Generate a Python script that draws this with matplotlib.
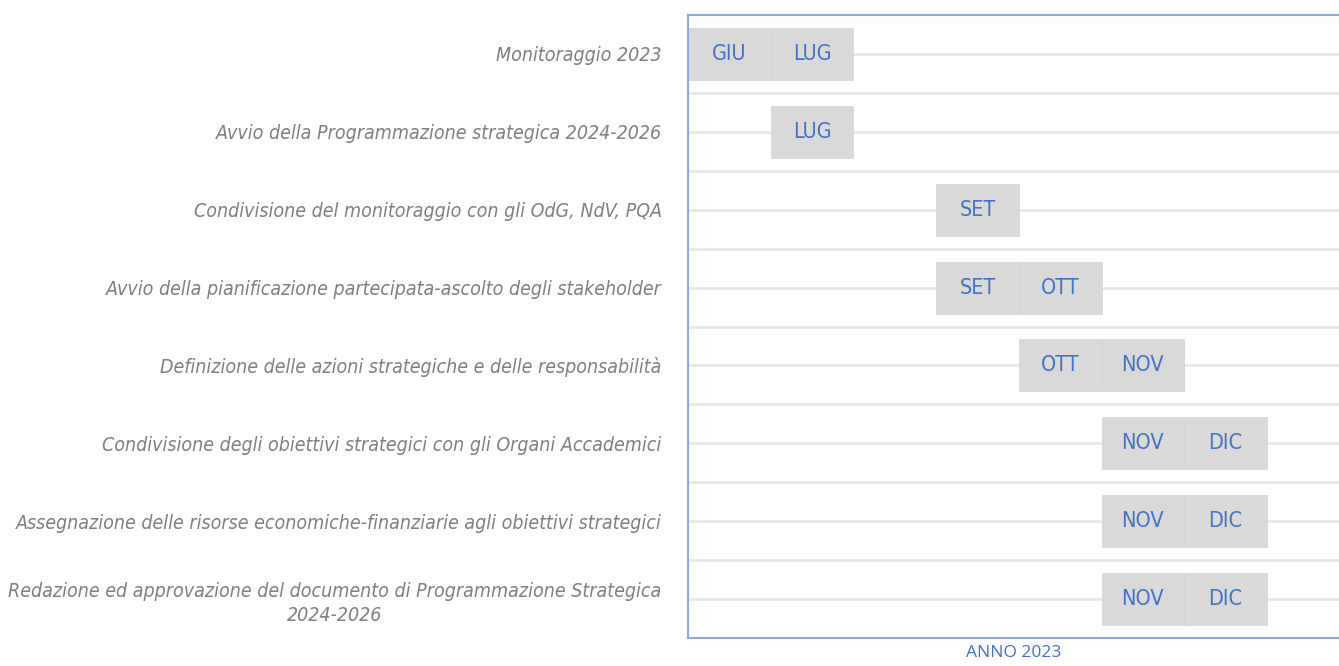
import numpy as np
import matplotlib
matplotlib.use('Agg')
import matplotlib.pyplot as plt

# data
tasks = ['Monitoraggio 2023',
         'Avvio della Programmazione strategica 2024-2026',
         'Condivisione del monitoraggio con gli OdG, NdV, PQA',
         'Avvio della pianificazione partecipata-ascolto degli stakeholder',
         'Definizione delle azioni strategiche e delle responsabilità',
         'Condivisione degli obiettivi strategici con gli Organi Accademici',
         'Assegnazione delle risorse economiche-finanziarie agli obiettivi strategici',
         'Redazione ed approvazione del documento di Programmazione Strategica\n2024-2026']
months = ['GIU', 'LUG', 'AGO', 'SET', 'OTT', 'NOV', 'DIC']
task_months = [['GIU', 'LUG'],
               ['LUG'],
               ['SET'],
               ['SET', 'OTT'],
               ['OTT', 'NOV'],
               ['NOV', 'DIC'],
               ['NOV', 'DIC'],
               ['NOV', 'DIC']]
xlabel = 'ANNO 2023'

blue = '#4472C4'
frame = '#8EAADB'
cond = dict(family='DejaVu Sans', stretch='condensed')

fig = plt.figure(figsize=(13.39, 6.66), dpi=100)
ax = fig.add_axes([688 / 1339, 28 / 666, 651 / 1339, 623 / 666])

n = len(tasks)
# light grid lines at row centres and row boundaries
for y in np.arange(0, n, 0.5):
    ax.axhline(y, color='#E6E6E6', lw=1.8, zorder=0)

for i, ms in enumerate(task_months):
    for m in ms:
        x = months.index(m)
        ax.barh(i, 1, left=x - 0.5, height=0.667, color='#D9D9D9',
                edgecolor='#D3D3D3', lw=0.5, zorder=2)
        ax.text(x, i, m, ha='center', va='center', color=blue,
                fontsize=15.5, zorder=3, **cond)

ax.set_xlim(-0.5, -0.5 + 651 / 82.7)
ax.set_ylim(n - 0.5, -0.5)
ax.set_yticks(range(n))
ax.set_yticklabels(tasks, style='italic', color='#7F7F7F', fontsize=14,
                   multialignment='center', linespacing=1.35, **cond)
ax.tick_params(axis='y', length=0, pad=19)
ax.set_xticks([])
ax.set_xlabel(xlabel, color=blue, fontsize=12.5, family='Open Sans',
              labelpad=5)
for s in ['left', 'top', 'bottom']:
    ax.spines[s].set_color(frame)
    ax.spines[s].set_linewidth(1.5)
ax.spines['right'].set_visible(False)

plt.savefig('out.png', dpi=100)
